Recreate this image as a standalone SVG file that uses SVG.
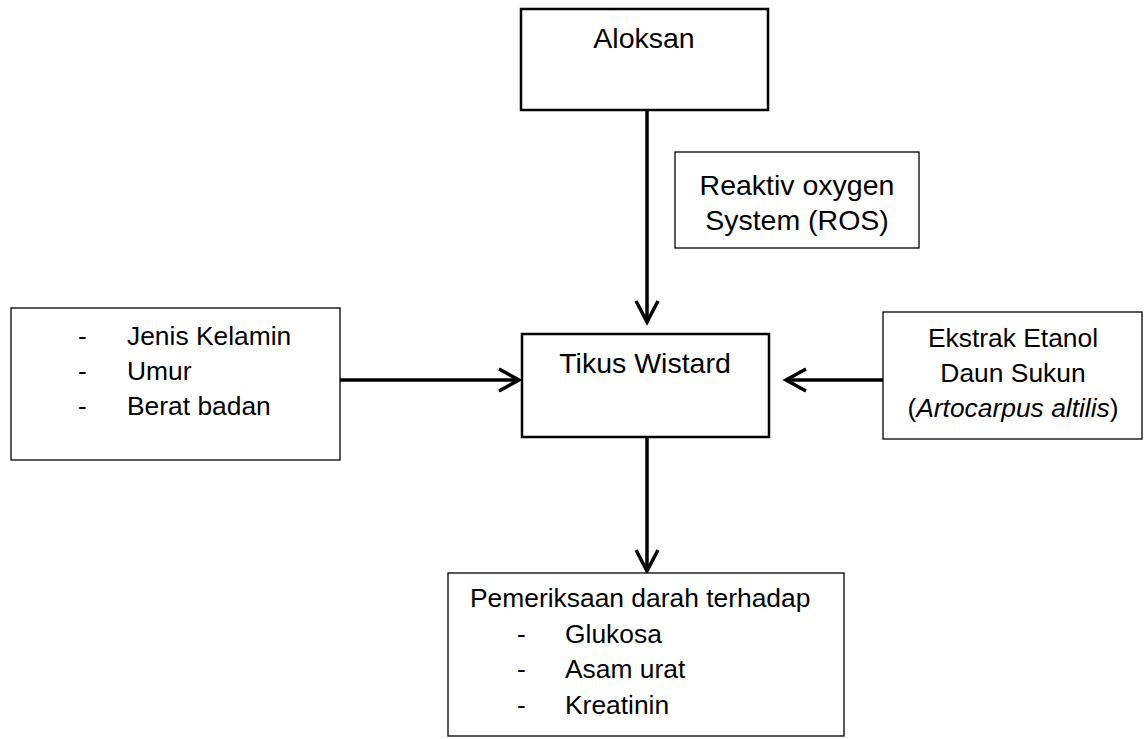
<svg xmlns="http://www.w3.org/2000/svg" width="1145" height="739" viewBox="0 0 1145 739">
<style>
text{font-family:"Liberation Sans",Arial,sans-serif;font-size:26.4px;fill:#000}
.big{font-size:28.5px}
.c{text-anchor:middle}
.thick{fill:#fff;stroke:#000;stroke-width:2.5}
.thin{fill:#fff;stroke:#000;stroke-width:1.3}
.ln{stroke:#000;stroke-width:3.5;fill:none}
.ah{stroke:#000;stroke-width:3.5;fill:none;stroke-linecap:butt;stroke-linejoin:miter}
</style>
<rect width="1145" height="739" fill="#fff"/>
<g id="connectors">
<line class="ln" x1="647" y1="110" x2="647" y2="321"/>
<polyline class="ah" points="636,301 647,322 658,301"/>
<line class="ln" x1="340" y1="380" x2="518" y2="380"/>
<polyline class="ah" points="499,369 519,380 499,391"/>
<line class="ln" x1="883" y1="380" x2="788" y2="380"/>
<polyline class="ah" points="806,369 786,380 806,391"/>
<line class="ln" x1="647" y1="437" x2="647" y2="570"/>
<polyline class="ah" points="636,550 647,571 658,550"/>
</g>
<g id="aloksan">
<rect class="thick" x="521" y="9" width="247" height="101"/>
<text class="c big" x="644" y="48">Aloksan</text>
</g>
<g id="ros">
<rect class="thin" x="675" y="152" width="244" height="96"/>
<text class="c big" x="797" y="195">Reaktiv oxygen</text>
<text class="c big" x="797" y="230">System (ROS)</text>
</g>
<g id="faktor">
<rect class="thin" x="11" y="308" width="329" height="152"/>
<text x="78" y="345">-</text><text x="127" y="345">Jenis Kelamin</text>
<text x="78" y="380">-</text><text x="127" y="380">Umur</text>
<text x="78" y="415">-</text><text x="127" y="415">Berat badan</text>
</g>
<g id="tikus">
<rect class="thick" x="522" y="334" width="247" height="103"/>
<text class="c big" x="645" y="373">Tikus Wistard</text>
</g>
<g id="ekstrak">
<rect class="thin" x="883" y="312" width="259" height="127"/>
<text class="c" x="1013" y="347">Ekstrak Etanol</text>
<text class="c" x="1013" y="382">Daun Sukun</text>
<text class="c" x="1013" y="417">(<tspan font-style="italic">Artocarpus altilis</tspan>)</text>
</g>
<g id="pemeriksaan">
<rect class="thin" x="448" y="573" width="396" height="163"/>
<text x="470" y="607">Pemeriksaan darah terhadap</text>
<text x="517" y="643">-</text><text x="565" y="643">Glukosa</text>
<text x="517" y="678">-</text><text x="565" y="678">Asam urat</text>
<text x="517" y="714">-</text><text x="565" y="714">Kreatinin</text>
</g>
</svg>
